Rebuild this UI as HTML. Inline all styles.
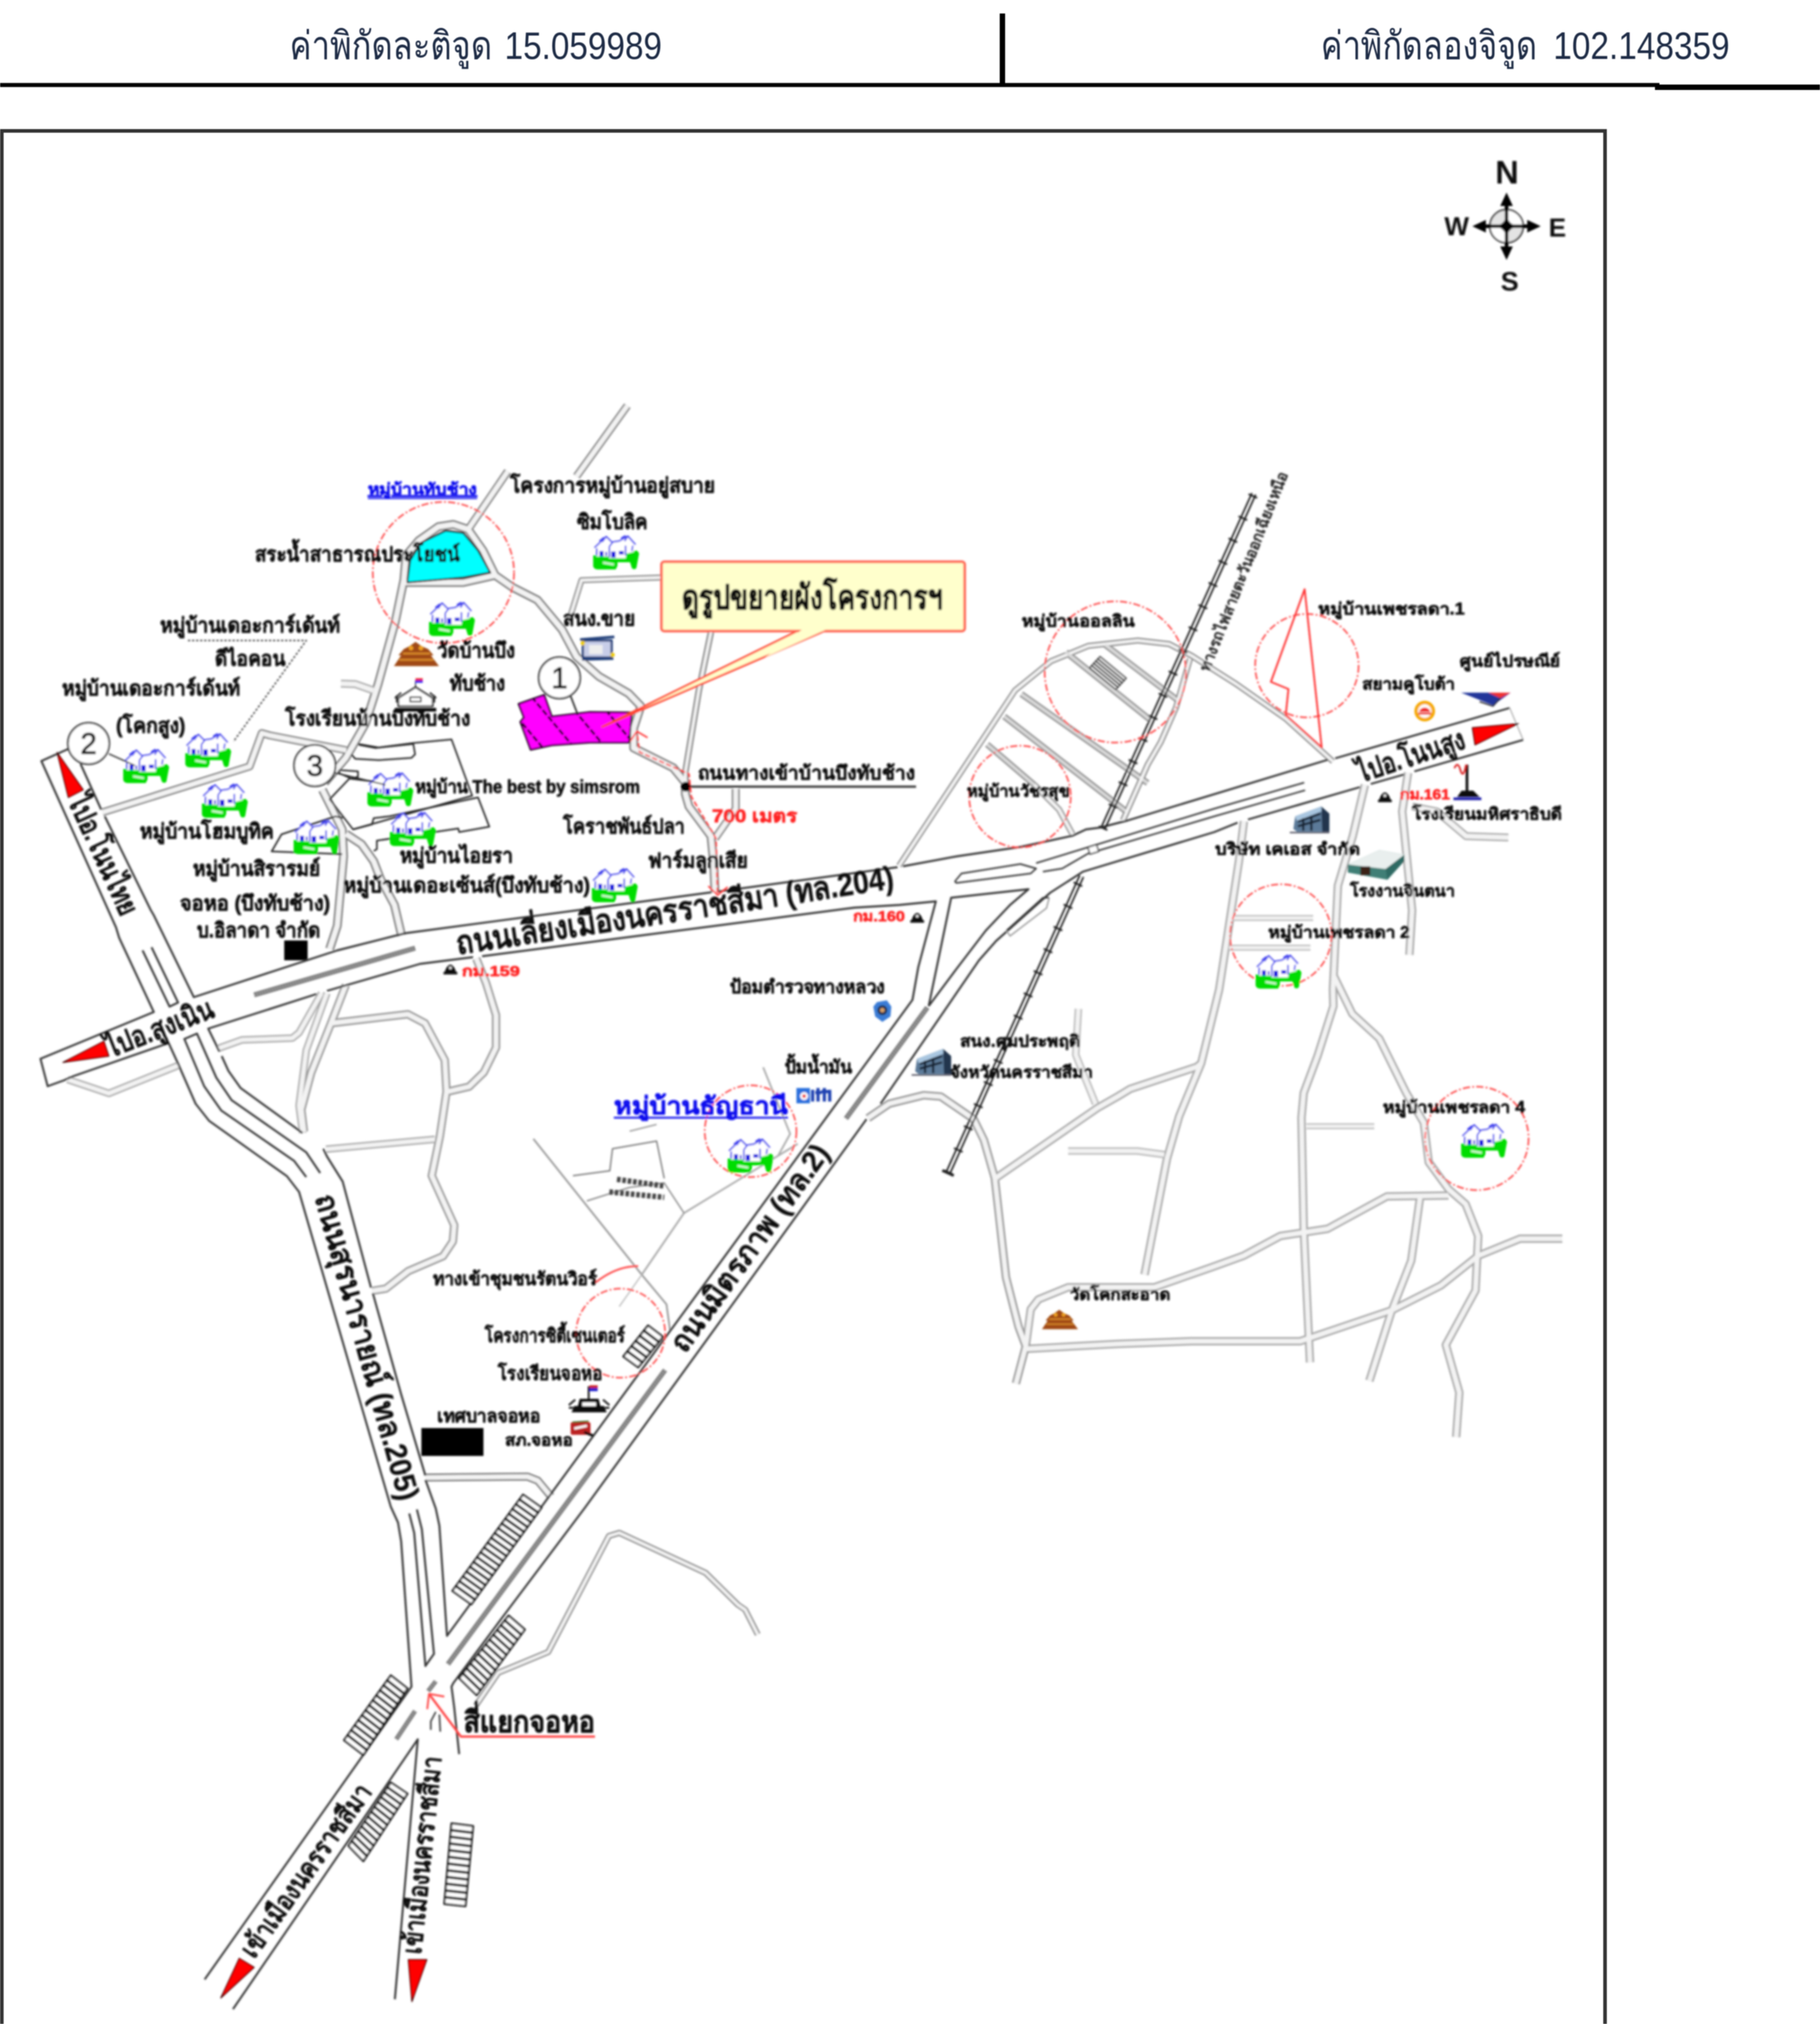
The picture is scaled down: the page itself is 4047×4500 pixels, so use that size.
<!DOCTYPE html>
<html lang="th"><head><meta charset="utf-8"><title>แผนที่</title>
<style>html,body{margin:0;padding:0;background:#fff}body{width:4047px;height:4500px;overflow:hidden;font-family:"Liberation Sans", sans-serif}svg{display:block;position:absolute;left:0;top:0}text{font-family:"Liberation Sans", sans-serif}</style></head><body>
<svg width="4047" height="4500" viewBox="0 0 4047 4500">
<defs><filter id="bl" x="0" y="0" width="100%" height="100%" filterUnits="userSpaceOnUse"><feGaussianBlur stdDeviation="2"/></filter>
<filter id="bl2" x="0" y="0" width="100%" height="100%" filterUnits="userSpaceOnUse"><feGaussianBlur stdDeviation="0.9"/></filter>

<g id="hs">
 <path d="M0,44 L0,68 Q2,75 10,75 L50,75 L54,67 L54,59 L82,59 L86,72 Q91,77 96,72 L102,40 Q100,32 92,33 L56,38 Z" fill="#0d0"/>
 <path d="M4,26 L28,3 L44,14 L60,10 L77,2 L93,19 L90,36 L74,40 L72,50 L36,50 L34,46 L8,46 Z" fill="#fff"/>
 <path d="M3,27 L29,2 L43,16 M29,2 L20,14 M36,24 L44,14 L58,12 L77,1 L94,20 M77,1 L70,12 M88,22 L86,34 M8,28 L8,44 M36,24 L36,48 M72,22 L72,44 M14,12 L24,4 M62,6 L72,0" fill="none" stroke="#44e" stroke-width="3.5"/>
 <rect x="14" y="34" width="9" height="12" fill="#11d"/><rect x="40" y="35" width="10" height="14" fill="#11d"/><rect x="57" y="34" width="11" height="8" fill="#11d"/><rect x="27" y="36" width="4" height="9" fill="#22d"/>
 <path d="M22,60 L46,64" stroke="#dfd" stroke-width="4"/>
</g>
<g id="temple">
 <path d="M0,54 L16,30 L10,30 L22,16 L34,10 L48,0 L62,10 L76,16 L88,30 L82,30 L100,54 Z" fill="#a04a12"/>
 <path d="M20,26 L80,26 M12,40 L88,40" stroke="#d98a2a" stroke-width="4"/>
 <circle cx="38" cy="14" r="5" fill="#f0a020"/><circle cx="60" cy="14" r="5" fill="#f0a020"/>
</g>
<g id="school">
 <path d="M8,48 L8,30 L46,6 L84,30 L84,48 Z" fill="#fff" stroke="#111" stroke-width="4"/>
 <path d="M0,56 L92,56" stroke="#111" stroke-width="8"/>
 <path d="M0,30 L14,18 M92,30 L78,18 M4,40 L4,24 M88,40 L88,24" stroke="#111" stroke-width="3"/>
 <rect x="34" y="28" width="24" height="10" fill="#fff" stroke="#111" stroke-width="3"/>
 <path d="M46,6 L46,-10" stroke="#111" stroke-width="2"/><rect x="46" y="-14" width="16" height="5" fill="#e22"/><rect x="46" y="-9" width="16" height="5" fill="#22e"/>
</g>
<g id="school2">
 <path d="M6,60 L84,60 L78,46 L70,46 L66,30 L24,30 L20,46 L12,46 Z" fill="#111"/>
 <path d="M0,44 L14,32 M90,44 L76,32 M0,50 L10,50 M80,50 L90,50" stroke="#111" stroke-width="4"/>
 <rect x="30" y="38" width="30" height="8" fill="#fff"/>
 <path d="M44,30 L44,2" stroke="#111" stroke-width="4"/><rect x="46" y="0" width="18" height="6" fill="#c22"/><rect x="46" y="6" width="18" height="7" fill="#22c"/>
</g>
<g id="bld">
 <path d="M0,50 L4,22 L62,0 L80,16 L80,56 L8,56 Z" fill="#5c7a99"/>
 <path d="M4,22 L62,0 L64,10 L8,32 Z" fill="#a9c6e0"/>
 <path d="M10,34 L60,16 M10,44 L60,30 M22,26 L22,54 M40,20 L40,54" stroke="#152033" stroke-width="5"/>
 <path d="M62,0 L80,16 L80,56 L64,56 Z" fill="#22344d"/>
 <path d="M-8,58 L80,58" stroke="#445" stroke-width="3"/>
</g>
<g id="wh">
 <path d="M0,32 L70,0 L126,10 L126,24 L88,66 L0,50 Z" fill="#3f7f76"/>
 <path d="M0,32 L70,0 L126,10 L84,42 Z" fill="#e9efee"/>
 <path d="M84,42 L126,10 L126,24 L88,66 Z" fill="#2f6a63"/>
 <rect x="28" y="36" width="22" height="20" fill="#3a2418"/>
</g>
<g id="km"><path d="M0,22 L4,12 Q15,-8 26,12 L30,22 Z" fill="#111"/><rect x="-2" y="20" width="34" height="6" fill="#111"/><circle cx="15" cy="10" r="3" fill="#fff"/></g>

</defs>
<rect width="4047" height="4500" fill="#fff"/>
<g filter="url(#bl2)">
<line x1="0" y1="189" x2="3690" y2="189" stroke="#000" stroke-width="9" />
<line x1="3680" y1="194" x2="4047" y2="194" stroke="#000" stroke-width="12" />
<line x1="2229" y1="30" x2="2229" y2="190" stroke="#000" stroke-width="12" />
<text x="644" y="131" font-size="86" font-weight="normal" fill="#1f2a44" text-anchor="start" textLength="450" lengthAdjust="spacingAndGlyphs" >ค่าพิกัดละติจูด</text>
<text x="1122" y="131" font-size="86" font-weight="normal" fill="#1f2a44" text-anchor="start" textLength="350" lengthAdjust="spacingAndGlyphs" >15.059989</text>
<text x="2937" y="131" font-size="86" font-weight="normal" fill="#1f2a44" text-anchor="start" textLength="481" lengthAdjust="spacingAndGlyphs" >ค่าพิกัดลองจิจูด</text>
<text x="3454" y="131" font-size="86" font-weight="normal" fill="#1f2a44" text-anchor="start" textLength="392" lengthAdjust="spacingAndGlyphs" >102.148359</text>
<polyline points="4,4500 4,291 3569,291 3569,4500" fill="none" stroke="#333" stroke-width="8" />
</g>
<g filter="url(#bl)" stroke-linecap="butt" stroke-linejoin="round">
<polyline points="733,2110 750,2058 764,1904 761,1844 731,1784 717,1756" fill="none" stroke="#7c7c7c" stroke-width="19.5" />
<polyline points="722,1740 769,1685 813,1608 841,1520 879,1382 898,1290 903,1235 931,1202 975,1171 1008,1166 1041,1177 1074,1224 1101,1279 1140,1306 1195,1334 1250,1400 1282,1460 1332,1504 1398,1542 1425,1570 1409,1619 1409,1663 1497,1707 1524,1740 1524,1765 1532,1793 1581,1859 1587,1919 1590,1985" fill="none" stroke="#7c7c7c" stroke-width="19.5" />
<polyline points="898,1295 1030,1295 1101,1279" fill="none" stroke="#7c7c7c" stroke-width="19.5" />
<polyline points="1041,1177 1129,1048" fill="none" stroke="#7c7c7c" stroke-width="17.5" />
<polyline points="1282,1059 1395,902" fill="none" stroke="#7c7c7c" stroke-width="17.5" />
<polyline points="1266,1377 1293,1290 1469,1284" fill="none" stroke="#7c7c7c" stroke-width="13" />
<polyline points="1581,1405 1554,1535 1524,1716 1524,1745" fill="none" stroke="#7c7c7c" stroke-width="14" />
<polyline points="1636,1754 1636,1798 1590,1864" fill="none" stroke="#7c7c7c" stroke-width="17.5" />
<polyline points="769,1854 804,1877 831,1915 846,1954 877,2012 893,2080" fill="none" stroke="#7c7c7c" stroke-width="19.5" />
<polyline points="228,1806 555,1704 582,1630 600,1635 770,1668" fill="none" stroke="#7c7c7c" stroke-width="17.5" />
<polyline points="758,1520 790,1521 830,1535" fill="none" stroke="#a8a8a8" stroke-width="17.5" />
<polyline points="1999,1925 2257,1535 2337,1470 2420,1436 2530,1424 2600,1432 2650,1458 2749,1521 2859,1598 2964,1693" fill="none" stroke="#7c7c7c" stroke-width="13" />
<polyline points="2458,1434 2623,1560" fill="none" stroke="#9a9a9a" stroke-width="14" />
<polyline points="2370,1450 2557,1600" fill="none" stroke="#9a9a9a" stroke-width="14" />
<polyline points="2271,1543 2552,1741" fill="none" stroke="#9a9a9a" stroke-width="14" />
<polyline points="2233,1593 2508,1807" fill="none" stroke="#9a9a9a" stroke-width="14" />
<polyline points="2195,1655 2300,1745" fill="none" stroke="#9a9a9a" stroke-width="14" />
<polyline points="2300,1745 2355,1800 2385,1855" fill="none" stroke="#989898" stroke-width="14" />
<polyline points="2646,1465 2615,1573 2581,1650 2552,1700 2497,1824" fill="none" stroke="#7c7c7c" stroke-width="13" />
<polyline points="2766,1826 2755,1914 2711,2200 2671,2364 2622,2482 2595,2576 2545,2834" fill="none" stroke="#a8a8a8" stroke-width="18.5" />
<polyline points="3035,1745 3008,1859 2975,1969 2964,2200 2965,2237 2930,2347 2899,2430 2894,2485 2899,2732 2908,2924 2913,3029" fill="none" stroke="#a8a8a8" stroke-width="18.5" />
<polyline points="3131,1718 3118,1804 3129,1914 3140,2024 3134,2123" fill="none" stroke="#a8a8a8" stroke-width="18.5" />
<polyline points="3140,1793 3195,1804 3260,1859 3354,1862" fill="none" stroke="#a8a8a8" stroke-width="17.5" />
<polyline points="2733,2041 2920,2041" fill="none" stroke="#b8b8b8" stroke-width="13" />
<polyline points="2733,2107 2914,2107" fill="none" stroke="#b8b8b8" stroke-width="13" />
<polyline points="2966,2170 3007,2254 3067,2309 3127,2430 3166,2496 3177,2584 3221,2644 3259,2677 3287,2748 3281,2869 3215,2990 3245,3096 3238,3195" fill="none" stroke="#a8a8a8" stroke-width="18.5" />
<polyline points="2281,2993 2292,2911 2309,2889 2375,2862 2567,2862 2693,2818 2765,2792 2847,2748 2952,2732 3084,2660 3221,2658" fill="none" stroke="#a8a8a8" stroke-width="18.5" />
<polyline points="2281,2999 2485,2988 2649,2982 2891,2982 3095,2913 3204,2858 3287,2792 3380,2754 3474,2754" fill="none" stroke="#a8a8a8" stroke-width="18.5" />
<polyline points="3158,2660 3138,2803 3095,2913 3045,3070" fill="none" stroke="#a8a8a8" stroke-width="18.5" />
<polyline points="2905,2504 3056,2504" fill="none" stroke="#b8b8b8" stroke-width="13" />
<polyline points="1930,2486 1977,2454 2054,2435 2092,2438 2165,2488 2188,2535 2212,2619 2237,2840 2265,2950 2281,2993 2259,3076" fill="none" stroke="#989898" stroke-width="18.5" />
<polyline points="2213,2620 2441,2463 2485,2438 2513,2421 2661,2372 2671,2364" fill="none" stroke="#a8a8a8" stroke-width="18.5" />
<polyline points="2398,2243 2392,2345 2436,2454" fill="none" stroke="#b8b8b8" stroke-width="16.5" />
<polyline points="2375,2559 2529,2559 2589,2567" fill="none" stroke="#b8b8b8" stroke-width="16.5" />
<polyline points="1059,2131 1081,2186 1103,2257 1103,2329 1076,2384 1043,2416 996,2427" fill="none" stroke="#989898" stroke-width="18.5" />
<polyline points="736,2275 907,2255 945,2275 989,2357 993,2427 978,2527 960,2614 1010,2724 1007,2760 985,2793 908,2826 858,2865 828,2870" fill="none" stroke="#989898" stroke-width="18.5" />
<polyline points="769,2190 736,2275 692,2385 670,2467 676,2516" fill="none" stroke="#989898" stroke-width="18.5" />
<polyline points="725,2555 967,2533" fill="none" stroke="#a8a8a8" stroke-width="16.5" />
<polyline points="485,2331 538,2312 650,2308 665,2296 715,2208" fill="none" stroke="#a8a8a8" stroke-width="16.5" />
<polyline points="727,2208 681,2335 665,2458 673,2519" fill="none" stroke="#a8a8a8" stroke-width="16.5" />
<polyline points="150,2400 242,2431 396,2369" fill="none" stroke="#a8a8a8" stroke-width="16.5" />
<polyline points="946,3285 1173,3283 1196,3292 1225,3327" fill="none" stroke="#6c6c6c" stroke-width="17.5" />
<polyline points="1058,3792 1108,3719 1219,3673 1354,3415 1377,3408 1569,3497 1641,3568 1657,3579 1685,3634" fill="none" stroke="#7c7c7c" stroke-width="13" />
<polyline points="733,2110 750,2058 764,1904 761,1844 731,1784 717,1756" fill="none" stroke="#f3f3f3" stroke-width="11.5" />
<polyline points="722,1740 769,1685 813,1608 841,1520 879,1382 898,1290 903,1235 931,1202 975,1171 1008,1166 1041,1177 1074,1224 1101,1279 1140,1306 1195,1334 1250,1400 1282,1460 1332,1504 1398,1542 1425,1570 1409,1619 1409,1663 1497,1707 1524,1740 1524,1765 1532,1793 1581,1859 1587,1919 1590,1985" fill="none" stroke="#f3f3f3" stroke-width="11.5" />
<polyline points="898,1295 1030,1295 1101,1279" fill="none" stroke="#f3f3f3" stroke-width="11.5" />
<polyline points="1041,1177 1129,1048" fill="none" stroke="#f3f3f3" stroke-width="10.5" />
<polyline points="1282,1059 1395,902" fill="none" stroke="#f3f3f3" stroke-width="10.5" />
<polyline points="1266,1377 1293,1290 1469,1284" fill="none" stroke="#f3f3f3" stroke-width="7" />
<polyline points="1581,1405 1554,1535 1524,1716 1524,1745" fill="none" stroke="#f3f3f3" stroke-width="7" />
<polyline points="1636,1754 1636,1798 1590,1864" fill="none" stroke="#f3f3f3" stroke-width="10.5" />
<polyline points="769,1854 804,1877 831,1915 846,1954 877,2012 893,2080" fill="none" stroke="#f3f3f3" stroke-width="11.5" />
<polyline points="228,1806 555,1704 582,1630 600,1635 770,1668" fill="none" stroke="#f3f3f3" stroke-width="10.5" />
<polyline points="758,1520 790,1521 830,1535" fill="none" stroke="#f3f3f3" stroke-width="10.5" />
<polyline points="1999,1925 2257,1535 2337,1470 2420,1436 2530,1424 2600,1432 2650,1458 2749,1521 2859,1598 2964,1693" fill="none" stroke="#f3f3f3" stroke-width="7" />
<polyline points="2458,1434 2623,1560" fill="none" stroke="#dcdcdc" stroke-width="6" />
<polyline points="2370,1450 2557,1600" fill="none" stroke="#dcdcdc" stroke-width="6" />
<polyline points="2271,1543 2552,1741" fill="none" stroke="#dcdcdc" stroke-width="6" />
<polyline points="2233,1593 2508,1807" fill="none" stroke="#dcdcdc" stroke-width="6" />
<polyline points="2195,1655 2300,1745" fill="none" stroke="#dcdcdc" stroke-width="6" />
<polyline points="2300,1745 2355,1800 2385,1855" fill="none" stroke="#f3f3f3" stroke-width="7" />
<polyline points="2646,1465 2615,1573 2581,1650 2552,1700 2497,1824" fill="none" stroke="#f3f3f3" stroke-width="7" />
<polyline points="2766,1826 2755,1914 2711,2200 2671,2364 2622,2482 2595,2576 2545,2834" fill="none" stroke="#f3f3f3" stroke-width="10.5" />
<polyline points="3035,1745 3008,1859 2975,1969 2964,2200 2965,2237 2930,2347 2899,2430 2894,2485 2899,2732 2908,2924 2913,3029" fill="none" stroke="#f3f3f3" stroke-width="10.5" />
<polyline points="3131,1718 3118,1804 3129,1914 3140,2024 3134,2123" fill="none" stroke="#f3f3f3" stroke-width="10.5" />
<polyline points="3140,1793 3195,1804 3260,1859 3354,1862" fill="none" stroke="#f3f3f3" stroke-width="10.5" />
<polyline points="2733,2041 2920,2041" fill="none" stroke="#f3f3f3" stroke-width="7" />
<polyline points="2733,2107 2914,2107" fill="none" stroke="#f3f3f3" stroke-width="7" />
<polyline points="2966,2170 3007,2254 3067,2309 3127,2430 3166,2496 3177,2584 3221,2644 3259,2677 3287,2748 3281,2869 3215,2990 3245,3096 3238,3195" fill="none" stroke="#f3f3f3" stroke-width="10.5" />
<polyline points="2281,2993 2292,2911 2309,2889 2375,2862 2567,2862 2693,2818 2765,2792 2847,2748 2952,2732 3084,2660 3221,2658" fill="none" stroke="#f3f3f3" stroke-width="10.5" />
<polyline points="2281,2999 2485,2988 2649,2982 2891,2982 3095,2913 3204,2858 3287,2792 3380,2754 3474,2754" fill="none" stroke="#f3f3f3" stroke-width="10.5" />
<polyline points="3158,2660 3138,2803 3095,2913 3045,3070" fill="none" stroke="#f3f3f3" stroke-width="10.5" />
<polyline points="2905,2504 3056,2504" fill="none" stroke="#f3f3f3" stroke-width="7" />
<polyline points="1930,2486 1977,2454 2054,2435 2092,2438 2165,2488 2188,2535 2212,2619 2237,2840 2265,2950 2281,2993 2259,3076" fill="none" stroke="#f3f3f3" stroke-width="10.5" />
<polyline points="2213,2620 2441,2463 2485,2438 2513,2421 2661,2372 2671,2364" fill="none" stroke="#f3f3f3" stroke-width="10.5" />
<polyline points="2398,2243 2392,2345 2436,2454" fill="none" stroke="#f3f3f3" stroke-width="9.5" />
<polyline points="2375,2559 2529,2559 2589,2567" fill="none" stroke="#f3f3f3" stroke-width="9.5" />
<polyline points="1059,2131 1081,2186 1103,2257 1103,2329 1076,2384 1043,2416 996,2427" fill="none" stroke="#f3f3f3" stroke-width="10.5" />
<polyline points="736,2275 907,2255 945,2275 989,2357 993,2427 978,2527 960,2614 1010,2724 1007,2760 985,2793 908,2826 858,2865 828,2870" fill="none" stroke="#f3f3f3" stroke-width="10.5" />
<polyline points="769,2190 736,2275 692,2385 670,2467 676,2516" fill="none" stroke="#f3f3f3" stroke-width="10.5" />
<polyline points="725,2555 967,2533" fill="none" stroke="#f3f3f3" stroke-width="9.5" />
<polyline points="485,2331 538,2312 650,2308 665,2296 715,2208" fill="none" stroke="#f3f3f3" stroke-width="9.5" />
<polyline points="727,2208 681,2335 665,2458 673,2519" fill="none" stroke="#f3f3f3" stroke-width="9.5" />
<polyline points="150,2400 242,2431 396,2369" fill="none" stroke="#f3f3f3" stroke-width="9.5" />
<polyline points="946,3285 1173,3283 1196,3292 1225,3327" fill="none" stroke="#f3f3f3" stroke-width="10.5" />
<polyline points="1058,3792 1108,3719 1219,3673 1354,3415 1377,3408 1569,3497 1641,3568 1657,3579 1685,3634" fill="none" stroke="#f3f3f3" stroke-width="7" />
<polyline points="1186,2532 1427,2834 1482,2900 1490,2958" fill="none" stroke="#999" stroke-width="4" />
<polyline points="1774,2543 1521,2697 1427,2834" fill="none" stroke="#aaa" stroke-width="4" />
<polyline points="1697,2373 1757,2521 1730,2570" fill="none" stroke="#aaa" stroke-width="4" />
<polyline points="1427,2834 1377,2905" fill="none" stroke="#bbb" stroke-width="3" />
<polyline points="1274,2614 1356,2603 1362,2554 1460,2537 1477,2620" fill="none" stroke="#777" stroke-width="3" />
<polyline points="1400,2515 1460,2500" fill="none" stroke="#999" stroke-width="3" />
<polyline points="1305,2670 1400,2640 1477,2630 1521,2697" fill="none" stroke="#888" stroke-width="3" />
<line x1="1524" y1="1749" x2="2037" y2="1749" stroke="#3a3a3a" stroke-width="5" />
<polyline points="798,1656 835,1663 919,1654 923,1677 915,1685 842,1690 790,1687 781,1677" fill="none" stroke="#222" stroke-width="3.5" />
<polyline points="796,1654 842,1662 919,1652 1004,1644 1050,1769 785,1844 733,1777 777,1731 835,1738" fill="none" stroke="#222" stroke-width="3.5" />
<polyline points="785,1844 827,1833 831,1819 865,1815 1063,1773 1088,1838 1021,1850 1019,1842 838,1869 838,1888 831,1892" fill="none" stroke="#222" stroke-width="3.5" />
<polyline points="754,1712 796,1715 796,1727 781,1731 754,1719 754,1712" fill="none" stroke="#222" stroke-width="3.5" />
<polyline points="762,1819 746,1815 626,1855 604,1893 761,1899" fill="none" stroke="#222" stroke-width="3.5" />
<circle cx="1525" cy="1749" r="11" fill="#000" stroke="none" stroke-width="0" />
<line x1="1372" y1="2622" x2="1477" y2="2637" stroke="#444" stroke-width="12" stroke-dasharray="8 4"/>
<line x1="1355" y1="2650" x2="1477" y2="2662" stroke="#444" stroke-width="12" stroke-dasharray="8 4"/>
<rect x="937" y="3175" width="138" height="62" fill="#000"/>
<rect x="632" y="2091" width="52" height="44" fill="#000"/>
<polyline points="172,1656 92,1692 258,2062 265,2085 342,2250 90,2354 106,2415 142,2402 165,2392 375,2319 396,2365 435,2454 465,2492 638,2615 665,2650 796,3100 869,3350 885,3385 892,3427 915,3750 455,4401" fill="none" stroke="#363636" stroke-width="4.4" />
<polyline points="179,1698 225,1800" fill="none" stroke="#363636" stroke-width="4.4" />
<polyline points="233,1815 335,2023 342,2035 431,2217 750,2113 900,2075 1581,1984" fill="none" stroke="#363636" stroke-width="4.4" />
<polyline points="1598,1982 1900,1941 1996,1928" fill="none" stroke="#363636" stroke-width="4.4" />
<polyline points="2008,1926 2127,1904 2269,1883 2385,1858 2415,1844 2446,1840 2508,1824 2953,1689" fill="none" stroke="#363636" stroke-width="4.4" />
<polyline points="2969,1686 3357,1574" fill="none" stroke="#363636" stroke-width="4.4" />
<polyline points="3357,1574 3387,1645" fill="none" stroke="#aaa" stroke-width="2.5" />
<polyline points="3387,1645 3145,1715" fill="none" stroke="#363636" stroke-width="4.4" />
<polyline points="3122,1722 3048,1743" fill="none" stroke="#363636" stroke-width="4.4" />
<polyline points="3024,1750 2775,1822" fill="none" stroke="#363636" stroke-width="4.4" />
<polyline points="2752,1829 2700,1850 2408,1938 2335,1985 2215,2092 2177,2135 1958,2454" fill="none" stroke="#363636" stroke-width="4.4" />
<polyline points="1927,2488 1665,2850 1300,3353 1123,3588 1008,3742 1004,3750 1010,3796 1021,3900" fill="none" stroke="#363636" stroke-width="4.4" />
<polyline points="317,2113 377,2238 396,2229 337,2106" fill="none" stroke="#363636" stroke-width="4.4" />
<polyline points="704,2210 463,2287 488,2338" fill="none" stroke="#363636" stroke-width="4.4" />
<polyline points="727,2203 934,2143 1052,2128" fill="none" stroke="#363636" stroke-width="4.4" />
<polyline points="1072,2126 1900,2018 2000,2012 2081,2004 2042,2150 2029,2223 994,3637 977,3392 969,3354 946,3290" fill="none" stroke="#363636" stroke-width="4.4" />
<polyline points="946,3281 892,3100 829,2875" fill="none" stroke="#363636" stroke-width="4.4" />
<polyline points="825,2863 762,2627 727,2571 719,2554" fill="none" stroke="#363636" stroke-width="4.4" />
<polyline points="673,2519 535,2419 508,2381 493,2348" fill="none" stroke="#363636" stroke-width="4.4" />
<polyline points="681,2617 654,2581 492,2469 454,2415 410,2310 438,2298 481,2396 515,2446 681,2562 712,2608" fill="none" stroke="#363636" stroke-width="4.4" />
<polyline points="910,3365 921,3408 946,3704 965,3677 938,3400 927,3356" fill="none" stroke="#363636" stroke-width="4.4" />
<polyline points="2065,2237 2115,1996 2287,1977 2246,2012 2192,2069 2127,2154 2065,2237" fill="none" stroke="#363636" stroke-width="4.4" />
<polyline points="2123,1960 2138,1942 2269,1921 2304,1931 2292,1942 2127,1963 2123,1960" fill="none" stroke="#363636" stroke-width="3.5" />
<polyline points="2238,2069 2319,1996 2333,1996" fill="none" stroke="#363636" stroke-width="3.5" />
<polyline points="2333,1996 2327,2019 2246,2081 2238,2069" fill="none" stroke="#999" stroke-width="3" />
<polyline points="2304,1919 2700,1798 2900,1740" fill="none" stroke="#363636" stroke-width="3.5" />
<polyline points="2319,1938 2362,1931 2419,1898 2700,1815 2902,1757" fill="none" stroke="#363636" stroke-width="3.5" />
<polygon points="2419,1884 2438,1878 2443,1893 2424,1899" fill="#fff" stroke="#363636" stroke-width="3" />
<polyline points="518,4467 929,3867 878,4445" fill="none" stroke="#363636" stroke-width="4.4" />
<polyline points="958,3846 958,3827 969,3806" fill="none" stroke="#363636" stroke-width="3.5" />
<polyline points="979,3850 977,3812" fill="none" stroke="#363636" stroke-width="3.5" />
<line x1="996" y1="3700" x2="1479" y2="3046" stroke="#777" stroke-width="11" />
<line x1="996" y1="3700" x2="1479" y2="3046" stroke="#a8a8a8" stroke-width="6" stroke-dasharray="2.5 3.5"/>
<line x1="1881" y1="2487" x2="2062" y2="2240" stroke="#777" stroke-width="11" />
<line x1="1881" y1="2487" x2="2062" y2="2240" stroke="#a8a8a8" stroke-width="6" stroke-dasharray="2.5 3.5"/>
<line x1="952" y1="3760" x2="969" y2="3738" stroke="#777" stroke-width="10" />
<line x1="952" y1="3760" x2="969" y2="3738" stroke="#a8a8a8" stroke-width="5" stroke-dasharray="2.5 3.5"/>
<line x1="881" y1="3867" x2="923" y2="3804" stroke="#777" stroke-width="10" />
<line x1="881" y1="3867" x2="923" y2="3804" stroke="#a8a8a8" stroke-width="5" stroke-dasharray="2.5 3.5"/>
<line x1="565" y1="2212" x2="923" y2="2108" stroke="#777" stroke-width="11" />
<line x1="565" y1="2212" x2="923" y2="2108" stroke="#a8a8a8" stroke-width="6" stroke-dasharray="2.5 3.5"/>
<polygon points="1006,3537 1163,3323 1204,3352 1048,3567" fill="#fff" stroke="#151515" stroke-width="4.5" />
<line x1="1013.85" y1="3526.3" x2="1055.8" y2="3556.25" stroke="#151515" stroke-width="6" />
<line x1="1021.7" y1="3515.6" x2="1063.6" y2="3545.5" stroke="#151515" stroke-width="6" />
<line x1="1029.55" y1="3504.9" x2="1071.4" y2="3534.75" stroke="#151515" stroke-width="6" />
<line x1="1037.4" y1="3494.2" x2="1079.2" y2="3524" stroke="#151515" stroke-width="6" />
<line x1="1045.25" y1="3483.5" x2="1087" y2="3513.25" stroke="#151515" stroke-width="6" />
<line x1="1053.1" y1="3472.8" x2="1094.8" y2="3502.5" stroke="#151515" stroke-width="6" />
<line x1="1060.95" y1="3462.1" x2="1102.6" y2="3491.75" stroke="#151515" stroke-width="6" />
<line x1="1068.8" y1="3451.4" x2="1110.4" y2="3481" stroke="#151515" stroke-width="6" />
<line x1="1076.65" y1="3440.7" x2="1118.2" y2="3470.25" stroke="#151515" stroke-width="6" />
<line x1="1084.5" y1="3430" x2="1126" y2="3459.5" stroke="#151515" stroke-width="6" />
<line x1="1092.35" y1="3419.3" x2="1133.8" y2="3448.75" stroke="#151515" stroke-width="6" />
<line x1="1100.2" y1="3408.6" x2="1141.6" y2="3438" stroke="#151515" stroke-width="6" />
<line x1="1108.05" y1="3397.9" x2="1149.4" y2="3427.25" stroke="#151515" stroke-width="6" />
<line x1="1115.9" y1="3387.2" x2="1157.2" y2="3416.5" stroke="#151515" stroke-width="6" />
<line x1="1123.75" y1="3376.5" x2="1165" y2="3405.75" stroke="#151515" stroke-width="6" />
<line x1="1131.6" y1="3365.8" x2="1172.8" y2="3395" stroke="#151515" stroke-width="6" />
<line x1="1139.45" y1="3355.1" x2="1180.6" y2="3384.25" stroke="#151515" stroke-width="6" />
<line x1="1147.3" y1="3344.4" x2="1188.4" y2="3373.5" stroke="#151515" stroke-width="6" />
<line x1="1155.15" y1="3333.7" x2="1196.2" y2="3362.75" stroke="#151515" stroke-width="6" />
<polygon points="1021,3731 1131,3592 1167,3623 1060,3769" fill="#fff" stroke="#151515" stroke-width="4.5" />
<line x1="1029.46" y1="3720.31" x2="1068.23" y2="3757.77" stroke="#151515" stroke-width="6" />
<line x1="1037.92" y1="3709.62" x2="1076.46" y2="3746.54" stroke="#151515" stroke-width="6" />
<line x1="1046.38" y1="3698.92" x2="1084.69" y2="3735.31" stroke="#151515" stroke-width="6" />
<line x1="1054.85" y1="3688.23" x2="1092.92" y2="3724.08" stroke="#151515" stroke-width="6" />
<line x1="1063.31" y1="3677.54" x2="1101.15" y2="3712.85" stroke="#151515" stroke-width="6" />
<line x1="1071.77" y1="3666.85" x2="1109.38" y2="3701.62" stroke="#151515" stroke-width="6" />
<line x1="1080.23" y1="3656.15" x2="1117.62" y2="3690.38" stroke="#151515" stroke-width="6" />
<line x1="1088.69" y1="3645.46" x2="1125.85" y2="3679.15" stroke="#151515" stroke-width="6" />
<line x1="1097.15" y1="3634.77" x2="1134.08" y2="3667.92" stroke="#151515" stroke-width="6" />
<line x1="1105.62" y1="3624.08" x2="1142.31" y2="3656.69" stroke="#151515" stroke-width="6" />
<line x1="1114.08" y1="3613.38" x2="1150.54" y2="3645.46" stroke="#151515" stroke-width="6" />
<line x1="1122.54" y1="3602.69" x2="1158.77" y2="3634.23" stroke="#151515" stroke-width="6" />
<polygon points="765,3869 869,3725 906,3754 808,3902" fill="#fff" stroke="#151515" stroke-width="4.5" />
<line x1="773" y1="3857.92" x2="815.538" y2="3890.62" stroke="#151515" stroke-width="6" />
<line x1="781" y1="3846.85" x2="823.077" y2="3879.23" stroke="#151515" stroke-width="6" />
<line x1="789" y1="3835.77" x2="830.615" y2="3867.85" stroke="#151515" stroke-width="6" />
<line x1="797" y1="3824.69" x2="838.154" y2="3856.46" stroke="#151515" stroke-width="6" />
<line x1="805" y1="3813.62" x2="845.692" y2="3845.08" stroke="#151515" stroke-width="6" />
<line x1="813" y1="3802.54" x2="853.231" y2="3833.69" stroke="#151515" stroke-width="6" />
<line x1="821" y1="3791.46" x2="860.769" y2="3822.31" stroke="#151515" stroke-width="6" />
<line x1="829" y1="3780.38" x2="868.308" y2="3810.92" stroke="#151515" stroke-width="6" />
<line x1="837" y1="3769.31" x2="875.846" y2="3799.54" stroke="#151515" stroke-width="6" />
<line x1="845" y1="3758.23" x2="883.385" y2="3788.15" stroke="#151515" stroke-width="6" />
<line x1="853" y1="3747.15" x2="890.923" y2="3776.77" stroke="#151515" stroke-width="6" />
<line x1="861" y1="3736.08" x2="898.462" y2="3765.38" stroke="#151515" stroke-width="6" />
<polygon points="775,4104 869,3963 906,3988 808,4138" fill="#fff" stroke="#151515" stroke-width="4.5" />
<line x1="782.231" y1="4093.15" x2="815.538" y2="4126.46" stroke="#151515" stroke-width="6" />
<line x1="789.462" y1="4082.31" x2="823.077" y2="4114.92" stroke="#151515" stroke-width="6" />
<line x1="796.692" y1="4071.46" x2="830.615" y2="4103.38" stroke="#151515" stroke-width="6" />
<line x1="803.923" y1="4060.62" x2="838.154" y2="4091.85" stroke="#151515" stroke-width="6" />
<line x1="811.154" y1="4049.77" x2="845.692" y2="4080.31" stroke="#151515" stroke-width="6" />
<line x1="818.385" y1="4038.92" x2="853.231" y2="4068.77" stroke="#151515" stroke-width="6" />
<line x1="825.615" y1="4028.08" x2="860.769" y2="4057.23" stroke="#151515" stroke-width="6" />
<line x1="832.846" y1="4017.23" x2="868.308" y2="4045.69" stroke="#151515" stroke-width="6" />
<line x1="840.077" y1="4006.38" x2="875.846" y2="4034.15" stroke="#151515" stroke-width="6" />
<line x1="847.308" y1="3995.54" x2="883.385" y2="4022.62" stroke="#151515" stroke-width="6" />
<line x1="854.538" y1="3984.69" x2="890.923" y2="4011.08" stroke="#151515" stroke-width="6" />
<line x1="861.769" y1="3973.85" x2="898.462" y2="3999.54" stroke="#151515" stroke-width="6" />
<polygon points="1004,4054 988,4233 1035,4238 1052,4060" fill="#fff" stroke="#151515" stroke-width="4.5" />
<line x1="1002.67" y1="4068.92" x2="1050.58" y2="4074.83" stroke="#151515" stroke-width="6" />
<line x1="1001.33" y1="4083.83" x2="1049.17" y2="4089.67" stroke="#151515" stroke-width="6" />
<line x1="1000" y1="4098.75" x2="1047.75" y2="4104.5" stroke="#151515" stroke-width="6" />
<line x1="998.667" y1="4113.67" x2="1046.33" y2="4119.33" stroke="#151515" stroke-width="6" />
<line x1="997.333" y1="4128.58" x2="1044.92" y2="4134.17" stroke="#151515" stroke-width="6" />
<line x1="996" y1="4143.5" x2="1043.5" y2="4149" stroke="#151515" stroke-width="6" />
<line x1="994.667" y1="4158.42" x2="1042.08" y2="4163.83" stroke="#151515" stroke-width="6" />
<line x1="993.333" y1="4173.33" x2="1040.67" y2="4178.67" stroke="#151515" stroke-width="6" />
<line x1="992" y1="4188.25" x2="1039.25" y2="4193.5" stroke="#151515" stroke-width="6" />
<line x1="990.667" y1="4203.17" x2="1037.83" y2="4208.33" stroke="#151515" stroke-width="6" />
<line x1="989.333" y1="4218.08" x2="1036.42" y2="4223.17" stroke="#151515" stroke-width="6" />
<polygon points="1386,3016 1441,2947 1474,2972 1419,3040" fill="#fff" stroke="#151515" stroke-width="4.5" />
<line x1="1395.17" y1="3004.5" x2="1428.17" y2="3028.67" stroke="#151515" stroke-width="6" />
<line x1="1404.33" y1="2993" x2="1437.33" y2="3017.33" stroke="#151515" stroke-width="6" />
<line x1="1413.5" y1="2981.5" x2="1446.5" y2="3006" stroke="#151515" stroke-width="6" />
<line x1="1422.67" y1="2970" x2="1455.67" y2="2994.67" stroke="#151515" stroke-width="6" />
<line x1="1431.83" y1="2958.5" x2="1464.83" y2="2983.33" stroke="#151515" stroke-width="6" />
<polygon points="2423,1485 2446,1460 2504,1508 2481,1533" fill="#fff" stroke="#222" stroke-width="3" />
<line x1="2427.6" y1="1480" x2="2485.6" y2="1528" stroke="#222" stroke-width="4" />
<line x1="2432.2" y1="1475" x2="2490.2" y2="1523" stroke="#222" stroke-width="4" />
<line x1="2436.8" y1="1470" x2="2494.8" y2="1518" stroke="#222" stroke-width="4" />
<line x1="2441.4" y1="1465" x2="2499.4" y2="1513" stroke="#222" stroke-width="4" />
<line x1="2112.1" y1="2609.85" x2="2409.1" y2="1949.85" stroke="#181818" stroke-width="3.6" />
<line x1="2103.9" y1="2606.15" x2="2400.9" y2="1946.15" stroke="#181818" stroke-width="3.6" />
<line x1="2108" y1="2608" x2="2405" y2="1948" stroke="#222" stroke-width="21" stroke-dasharray="4 50"/>
<line x1="2120.77" y1="2613.75" x2="2095.23" y2="2602.25" stroke="#222" stroke-width="6" />
<line x1="2456.1" y1="1844.85" x2="2792.1" y2="1099.85" stroke="#181818" stroke-width="3.6" />
<line x1="2447.9" y1="1841.15" x2="2783.9" y2="1096.15" stroke="#181818" stroke-width="3.6" />
<line x1="2452" y1="1843" x2="2788" y2="1098" stroke="#222" stroke-width="21" stroke-dasharray="4 50"/>
<circle cx="986" cy="1273" r="157" fill="none" stroke="#f44" stroke-width="3.5" stroke-dasharray="16 5 4 5"/>
<circle cx="2480" cy="1494" r="157" fill="none" stroke="#f44" stroke-width="3.5" stroke-dasharray="16 5 4 5"/>
<circle cx="2268" cy="1771" r="113" fill="none" stroke="#f44" stroke-width="3.5" stroke-dasharray="16 5 4 5"/>
<circle cx="2906" cy="1480" r="115" fill="none" stroke="#f44" stroke-width="3.5" stroke-dasharray="16 5 4 5"/>
<circle cx="2848" cy="2079" r="113" fill="none" stroke="#f44" stroke-width="3.5" stroke-dasharray="16 5 4 5"/>
<circle cx="3284" cy="2531" r="115" fill="none" stroke="#f44" stroke-width="3.5" stroke-dasharray="16 5 4 5"/>
<circle cx="1669" cy="2515" r="102" fill="none" stroke="#f44" stroke-width="3.5" stroke-dasharray="16 5 4 5"/>
<circle cx="1380" cy="2964" r="99" fill="none" stroke="#f44" stroke-width="3.5" stroke-dasharray="16 5 4 5"/>
<path d="M1325,2851 Q1370,2815 1419,2815" fill="none" stroke="#f44" stroke-width="4"/>
<polygon points="2901,1310 2826,1516 2865,1532 2859,1590 2939,1662" fill="none" stroke="#f33" stroke-width="4" />
<polyline points="1595,1985 1592,1864 1537,1771 1532,1721 1422,1672 1416,1628" fill="none" stroke="#f33" stroke-width="3.5" stroke-dasharray="12 5"/>
<polyline points="1400,1650 1416,1626 1440,1640" fill="none" stroke="#f33" stroke-width="3.5" />
<polyline points="1575,1970 1596,1990 1618,1972" fill="none" stroke="#f33" stroke-width="3.5" />
<polyline points="1323,3861 1025,3861 956,3769" fill="none" stroke="#f44" stroke-width="5" />
<polyline points="950,3800 954,3766 988,3772" fill="none" stroke="#f44" stroke-width="4" />
<polyline points="418,1424 681,1424 519,1649" fill="none" stroke="#333" stroke-width="3" stroke-dasharray="5 4"/>
<polygon points="906,1290 912,1246 936,1207 991,1180 1030,1185 1063,1224 1090,1273 1030,1284 906,1295" fill="#00ffff" stroke="#111" stroke-width="4" />
<use href="#hs" transform="translate(274 1666) scale(1)"/>
<use href="#hs" transform="translate(412 1631) scale(1)"/>
<use href="#hs" transform="translate(449 1743) scale(1)"/>
<use href="#hs" transform="translate(653 1824) scale(1)"/>
<use href="#hs" transform="translate(817 1718) scale(1)"/>
<use href="#hs" transform="translate(867 1806) scale(1)"/>
<use href="#hs" transform="translate(954 1339) scale(1)"/>
<use href="#hs" transform="translate(1319 1191) scale(1)"/>
<use href="#hs" transform="translate(1316 1931) scale(1)"/>
<use href="#hs" transform="translate(1618 2532) scale(1)"/>
<use href="#hs" transform="translate(2792 2123) scale(1)"/>
<use href="#hs" transform="translate(3249 2499) scale(1)"/>
<use href="#temple" transform="translate(876 1427) scale(1)"/>
<use href="#temple" transform="translate(2317 2912) scale(0.8)"/>
<use href="#school" transform="translate(878 1522) scale(1)"/>
<use href="#school2" transform="translate(1265 3080) scale(1)"/>
<use href="#bld" transform="translate(2876 1793) scale(1)"/>
<use href="#bld" transform="translate(2035 2332) scale(1)"/>
<use href="#wh" transform="translate(2997 1890) scale(1)"/>
<use href="#km" transform="translate(3066 1760) scale(0.9)"/>
<use href="#km" transform="translate(988 2143) scale(0.9)"/>
<use href="#km" transform="translate(2026 2028) scale(0.9)"/>
<g transform="translate(1290 1416)"><rect x="6" y="8" width="64" height="38" fill="#c8cde8" stroke="#24407a" stroke-width="5"/><path d="M0,6 L76,0 M4,50 L74,48" stroke="#24407a" stroke-width="6"/><rect x="20" y="18" width="30" height="20" fill="#eee"/><circle cx="72" cy="40" r="5" fill="#ec0"/><circle cx="6" cy="14" r="5" fill="#ec0"/></g>
<circle cx="3168" cy="1581" r="19" fill="#fff" stroke="#f6a800" stroke-width="8" />
<path d="M3156,1583 a12,10 0 0 1 24,0 Z" fill="#e22"/><rect x="3154" y="1584" width="28" height="5" fill="#e22"/>
<path d="M3249,1540 L3359,1540 L3320,1568 Z" fill="#23349a"/><path d="M3310,1540 L3359,1540 L3336,1552 Z" fill="#e33"/><path d="M3290,1560 L3320,1570 L3336,1552" fill="none" stroke="#333" stroke-width="3"/>
<path d="M3262,1700 L3262,1760" stroke="#111" stroke-width="6"/><path d="M3240,1772 L3250,1758 L3276,1758 L3290,1772 Z" fill="#111"/><path d="M3232,1776 L3294,1776" stroke="#22a" stroke-width="6"/><path d="M3234,1708 Q3242,1690 3248,1714 Q3254,1732 3260,1700" fill="none" stroke="#d22" stroke-width="4"/>
<g transform="translate(1942 2224)"><path d="M8,4 L30,0 L40,14 L38,36 L20,48 L4,36 L0,14 Z" fill="#3a7bd5"/><circle cx="20" cy="22" r="11" fill="#24324f"/><circle cx="20" cy="22" r="5" fill="#d9a066"/></g>
<g transform="translate(1771 2415)"><rect x="0" y="4" width="30" height="34" fill="#2a6fdd"/><circle cx="17" cy="22" r="9" fill="#fff"/><circle cx="17" cy="22" r="4" fill="#e22"/><path d="M36,8 L36,34 M48,4 L48,34 M42,14 L56,14 M62,4 L62,34 M56,12 L72,12 M74,8 L74,34" stroke="#1b3fb0" stroke-width="7"/></g>
<g transform="translate(1269 3158)"><rect x="0" y="4" width="44" height="28" rx="4" fill="#b22"/><path d="M8,18 L36,12" stroke="#fff" stroke-width="5"/><path d="M30,26 L50,34" stroke="#111" stroke-width="6"/><path d="M4,4 L40,2" stroke="#262" stroke-width="3"/></g>
<polygon points="127,1673 152,1773 185,1756" fill="#f00" stroke="#400" stroke-width="2.5" />
<polygon points="140,2362 231,2315 242,2348" fill="#f00" stroke="#400" stroke-width="2.5" />
<polygon points="3376,1609 3274,1618 3280,1656" fill="#f00" stroke="#400" stroke-width="2.5" />
<polygon points="491,4442 532,4354 565,4374" fill="#f00" stroke="#400" stroke-width="2.5" />
<polygon points="916,4450 908,4357 949,4357" fill="#f00" stroke="#400" stroke-width="2.5" />
<circle cx="1244" cy="1507" r="46" fill="#fff" stroke="#333" stroke-width="4" />
<text x="1244" y="1530" font-size="66" font-weight="normal" fill="#111" text-anchor="middle" stroke="#111" stroke-width="1.6">1</text>
<circle cx="197" cy="1653" r="46" fill="#fff" stroke="#333" stroke-width="4" />
<text x="197" y="1676" font-size="66" font-weight="normal" fill="#111" text-anchor="middle" stroke="#111" stroke-width="1.6">2</text>
<circle cx="700" cy="1702" r="46" fill="#fff" stroke="#333" stroke-width="4" />
<text x="700" y="1725" font-size="66" font-weight="normal" fill="#111" text-anchor="middle" stroke="#111" stroke-width="1.6">3</text>
<line x1="242" y1="1676" x2="300" y2="1702" stroke="#222" stroke-width="3" />
<line x1="744" y1="1718" x2="857" y2="1745" stroke="#222" stroke-width="3" />
<polygon points="1153,1565 1210,1545 1227,1593 1312,1583 1405,1584 1399,1651 1312,1651 1227,1657 1180,1667 1157,1605 1165,1595" fill="#ff00ff" stroke="#202" stroke-width="4" />
<clipPath id="pj"><polygon points="1153,1565 1210,1545 1227,1593 1312,1583 1405,1584 1399,1651 1312,1651 1227,1657 1180,1667 1157,1605 1165,1595"/></clipPath>
<g clip-path="url(#pj)" stroke="#101" stroke-width="5" stroke-dasharray="14 5"><line x1="1100" y1="1535" x2="1230" y2="1690" stroke="#101" stroke-width="5" /><line x1="1170" y1="1535" x2="1300" y2="1690" stroke="#101" stroke-width="5" /><line x1="1240" y1="1535" x2="1370" y2="1690" stroke="#101" stroke-width="5" /><line x1="1310" y1="1535" x2="1440" y2="1690" stroke="#101" stroke-width="5" /><line x1="1370" y1="1535" x2="1500" y2="1690" stroke="#101" stroke-width="5" /></g>
<line x1="1269" y1="1548" x2="1284" y2="1587" stroke="#222" stroke-width="3.5" />
<polygon points="1779,1400 1840,1400 1339,1616" fill="#ffffcc" stroke="#f43" stroke-width="4.5" />
<rect x="1471" y="1249" width="674" height="154" rx="6" fill="#ffffcc" stroke="#f65" stroke-width="6"/>
<polygon points="1783,1400 1836,1400 1700,1462" fill="#ffffcc" stroke="none" stroke-width="0" />
<text x="818" y="1099.18" font-size="34" font-weight="bold" fill="#11e" text-anchor="start" textLength="243" lengthAdjust="spacingAndGlyphs" text-decoration="underline" stroke="#11e" stroke-width="1.3">หมู่บ้านทับช้าง</text>
<line x1="818" y1="1108" x2="1061" y2="1108" stroke="#11e" stroke-width="3" />
<text x="1134" y="1095.42" font-size="46" font-weight="bold" fill="#111" text-anchor="start" textLength="456" lengthAdjust="spacingAndGlyphs"  stroke="#111" stroke-width="1.3">โครงการหมู่บ้านอยู่สบาย</text>
<text x="1283" y="1176.42" font-size="46" font-weight="bold" fill="#111" text-anchor="start" textLength="157" lengthAdjust="spacingAndGlyphs"  stroke="#111" stroke-width="1.3">ซิมโบลิค</text>
<text x="567" y="1248.42" font-size="46" font-weight="bold" fill="#111" text-anchor="start" textLength="455" lengthAdjust="spacingAndGlyphs"  stroke="#111" stroke-width="1.3">สระน้ำสาธารณประโยชน์</text>
<text x="356" y="1406.42" font-size="46" font-weight="bold" fill="#111" text-anchor="start" textLength="400" lengthAdjust="spacingAndGlyphs"  stroke="#111" stroke-width="1.3">หมู่บ้านเดอะการ์เด้นท์</text>
<text x="478" y="1480.42" font-size="46" font-weight="bold" fill="#111" text-anchor="start" textLength="156" lengthAdjust="spacingAndGlyphs"  stroke="#111" stroke-width="1.3">ดีไอคอน</text>
<text x="138" y="1546.42" font-size="46" font-weight="bold" fill="#111" text-anchor="start" textLength="396" lengthAdjust="spacingAndGlyphs"  stroke="#111" stroke-width="1.3">หมู่บ้านเดอะการ์เด้นท์</text>
<text x="258" y="1629.42" font-size="46" font-weight="bold" fill="#111" text-anchor="start" textLength="154" lengthAdjust="spacingAndGlyphs"  stroke="#111" stroke-width="1.3">(โคกสูง)</text>
<text x="972" y="1462.42" font-size="46" font-weight="bold" fill="#111" text-anchor="start" textLength="173" lengthAdjust="spacingAndGlyphs"  stroke="#111" stroke-width="1.3">วัดบ้านบึง</text>
<text x="1000" y="1535.42" font-size="46" font-weight="bold" fill="#111" text-anchor="start" textLength="123" lengthAdjust="spacingAndGlyphs"  stroke="#111" stroke-width="1.3">ทับช้าง</text>
<text x="634" y="1613.42" font-size="46" font-weight="bold" fill="#111" text-anchor="start" textLength="411" lengthAdjust="spacingAndGlyphs"  stroke="#111" stroke-width="1.3">โรงเรียนบ้านบึงทับช้าง</text>
<text x="1252" y="1391.42" font-size="46" font-weight="bold" fill="#111" text-anchor="start" textLength="160" lengthAdjust="spacingAndGlyphs"  stroke="#111" stroke-width="1.3">สนง.ขาย</text>
<text x="1516" y="1353.52" font-size="76" font-weight="bold" fill="#111" text-anchor="start" textLength="580" lengthAdjust="spacingAndGlyphs" stroke="#111" stroke-width="2.2">ดูรูปขยายผังโครงการฯ</text>
<text x="2272" y="1392.72" font-size="36" font-weight="bold" fill="#111" text-anchor="start" textLength="252" lengthAdjust="spacingAndGlyphs"  stroke="#111" stroke-width="1.3">หมู่บ้านออลลิน</text>
<text x="2931" y="1365.72" font-size="36" font-weight="bold" fill="#111" text-anchor="start" textLength="326" lengthAdjust="spacingAndGlyphs"  stroke="#111" stroke-width="1.3">หมู่บ้านเพชรลดา.1</text>
<text x="3246" y="1481.72" font-size="36" font-weight="bold" fill="#111" text-anchor="start" textLength="223" lengthAdjust="spacingAndGlyphs"  stroke="#111" stroke-width="1.3">ศูนย์ไปรษณีย์</text>
<text x="3029" y="1532.72" font-size="36" font-weight="bold" fill="#111" text-anchor="start" textLength="206" lengthAdjust="spacingAndGlyphs"  stroke="#111" stroke-width="1.3">สยามคูโบต้า</text>
<text x="3140" y="1821.72" font-size="36" font-weight="bold" fill="#111" text-anchor="start" textLength="333" lengthAdjust="spacingAndGlyphs"  stroke="#111" stroke-width="1.3">โรงเรียนมหิศราธิบดี</text>
<text x="3113" y="1776.64" font-size="32" font-weight="bold" fill="#f22" text-anchor="start" textLength="111" lengthAdjust="spacingAndGlyphs"  stroke="#f22" stroke-width="1.3">กม.161</text>
<text x="2702" y="1899.72" font-size="36" font-weight="bold" fill="#111" text-anchor="start" textLength="322" lengthAdjust="spacingAndGlyphs"  stroke="#111" stroke-width="1.3">บริษัท เคเอส จำกัด</text>
<text x="3002" y="1992.72" font-size="36" font-weight="bold" fill="#111" text-anchor="start" textLength="233" lengthAdjust="spacingAndGlyphs"  stroke="#111" stroke-width="1.3">โรงงานจินตนา</text>
<text x="2820" y="2084.72" font-size="36" font-weight="bold" fill="#111" text-anchor="start" textLength="315" lengthAdjust="spacingAndGlyphs"  stroke="#111" stroke-width="1.3">หมู่บ้านเพชรลดา 2</text>
<text x="3075" y="2473.72" font-size="36" font-weight="bold" fill="#111" text-anchor="start" textLength="316" lengthAdjust="spacingAndGlyphs"  stroke="#111" stroke-width="1.3">หมู่บ้านเพชรลดา 4</text>
<text x="2150" y="1770.72" font-size="36" font-weight="bold" fill="#111" text-anchor="start" textLength="229" lengthAdjust="spacingAndGlyphs"  stroke="#111" stroke-width="1.3">หมู่บ้านวัชรสุข</text>
<text x="1552" y="1733.34" font-size="42" font-weight="bold" fill="#111" text-anchor="start" textLength="483" lengthAdjust="spacingAndGlyphs"  stroke="#111" stroke-width="1.3">ถนนทางเข้าบ้านบึงทับช้าง</text>
<text x="1583" y="1827.8" font-size="40" font-weight="bold" fill="#f22" text-anchor="start" textLength="189" lengthAdjust="spacingAndGlyphs"  stroke="#f22" stroke-width="1.3">700 เมตร</text>
<text x="923" y="1762.8" font-size="40" font-weight="bold" fill="#111" text-anchor="start" textLength="500" lengthAdjust="spacingAndGlyphs"  stroke="#111" stroke-width="1.3">หมู่บ้าน The best by simsrom</text>
<text x="1252" y="1853.42" font-size="46" font-weight="bold" fill="#111" text-anchor="start" textLength="271" lengthAdjust="spacingAndGlyphs"  stroke="#111" stroke-width="1.3">โคราชพันธ์ปลา</text>
<text x="1441" y="1929.42" font-size="46" font-weight="bold" fill="#111" text-anchor="start" textLength="222" lengthAdjust="spacingAndGlyphs"  stroke="#111" stroke-width="1.3">ฟาร์มลูกเสีย</text>
<text x="889" y="1918.42" font-size="46" font-weight="bold" fill="#111" text-anchor="start" textLength="252" lengthAdjust="spacingAndGlyphs"  stroke="#111" stroke-width="1.3">หมู่บ้านไอยรา</text>
<text x="763" y="1984.42" font-size="46" font-weight="bold" fill="#111" text-anchor="start" textLength="549" lengthAdjust="spacingAndGlyphs"  stroke="#111" stroke-width="1.3">หมู่บ้านเดอะเซ้นส์(บึงทับช้าง)</text>
<text x="311" y="1864.42" font-size="46" font-weight="bold" fill="#111" text-anchor="start" textLength="298" lengthAdjust="spacingAndGlyphs"  stroke="#111" stroke-width="1.3">หมู่บ้านโฮมบูทิค</text>
<text x="429" y="1947.42" font-size="46" font-weight="bold" fill="#111" text-anchor="start" textLength="283" lengthAdjust="spacingAndGlyphs"  stroke="#111" stroke-width="1.3">หมู่บ้านสิรารมย์</text>
<text x="400" y="2024.42" font-size="46" font-weight="bold" fill="#111" text-anchor="start" textLength="334" lengthAdjust="spacingAndGlyphs"  stroke="#111" stroke-width="1.3">จอหอ (บึงทับช้าง)</text>
<text x="438" y="2084.42" font-size="46" font-weight="bold" fill="#111" text-anchor="start" textLength="274" lengthAdjust="spacingAndGlyphs"  stroke="#111" stroke-width="1.3">บ.อิลาดา จำกัด</text>
<text x="1027" y="2169.64" font-size="32" font-weight="bold" fill="#f22" text-anchor="start" textLength="129" lengthAdjust="spacingAndGlyphs"  stroke="#f22" stroke-width="1.3">กม.159</text>
<text x="1897" y="2047.64" font-size="32" font-weight="bold" fill="#f22" text-anchor="start" textLength="115" lengthAdjust="spacingAndGlyphs"  stroke="#f22" stroke-width="1.3">กม.160</text>
<text x="1623" y="2207.8" font-size="40" font-weight="bold" fill="#111" text-anchor="start" textLength="345" lengthAdjust="spacingAndGlyphs"  stroke="#111" stroke-width="1.3">ป้อมตำรวจทางหลวง</text>
<text x="2135" y="2326.72" font-size="36" font-weight="bold" fill="#111" text-anchor="start" textLength="266" lengthAdjust="spacingAndGlyphs"  stroke="#111" stroke-width="1.3">สนง.คุมประพฤติ</text>
<text x="2112" y="2395.72" font-size="36" font-weight="bold" fill="#111" text-anchor="start" textLength="318" lengthAdjust="spacingAndGlyphs"  stroke="#111" stroke-width="1.3">จังหวัดนครราชสีมา</text>
<text x="1745" y="2385.8" font-size="40" font-weight="bold" fill="#111" text-anchor="start" textLength="149" lengthAdjust="spacingAndGlyphs"  stroke="#111" stroke-width="1.3">ปั้มน้ำมัน</text>
<text x="1365" y="2476.58" font-size="54" font-weight="bold" fill="#11e" text-anchor="start" textLength="387" lengthAdjust="spacingAndGlyphs"  stroke="#11e" stroke-width="1.3">หมู่บ้านธัญธานี</text>
<line x1="1365" y1="2485" x2="1752" y2="2485" stroke="#11e" stroke-width="4" />
<text x="963" y="2856.8" font-size="40" font-weight="bold" fill="#111" text-anchor="start" textLength="364" lengthAdjust="spacingAndGlyphs"  stroke="#111" stroke-width="1.3">ทางเข้าชุมชนรัตนวิอร์</text>
<text x="1078" y="2984.34" font-size="42" font-weight="bold" fill="#111" text-anchor="start" textLength="312" lengthAdjust="spacingAndGlyphs"  stroke="#111" stroke-width="1.3">โครงการซิตี้เซนเตอร์</text>
<text x="1107" y="3068.34" font-size="42" font-weight="bold" fill="#111" text-anchor="start" textLength="232" lengthAdjust="spacingAndGlyphs"  stroke="#111" stroke-width="1.3">โรงเรียนจอหอ</text>
<text x="972" y="3161.8" font-size="40" font-weight="bold" fill="#111" text-anchor="start" textLength="229" lengthAdjust="spacingAndGlyphs"  stroke="#111" stroke-width="1.3">เทศบาลจอหอ</text>
<text x="1123" y="3213.72" font-size="36" font-weight="bold" fill="#111" text-anchor="start" textLength="151" lengthAdjust="spacingAndGlyphs"  stroke="#111" stroke-width="1.3">สภ.จอหอ</text>
<text x="2379" y="2889.72" font-size="36" font-weight="bold" fill="#111" text-anchor="start" textLength="223" lengthAdjust="spacingAndGlyphs"  stroke="#111" stroke-width="1.3">วัดโคกสะอาด</text>
<text x="1031" y="3850.82" font-size="66" font-weight="bold" fill="#111" text-anchor="start" textLength="292" lengthAdjust="spacingAndGlyphs"  stroke="#111" stroke-width="1.3">สี่แยกจอหอ</text>
<text x="1018" y="2122" font-size="72" font-weight="bold" fill="#111" textLength="983.053" lengthAdjust="spacingAndGlyphs" transform="rotate(-8.59993 1018 2122)" stroke="#111" stroke-width="0.6">ถนนเลี่ยงเมืองนครราชสีมา (ทล.204)</text>
<text x="1523" y="3011" font-size="66" font-weight="bold" fill="#111" textLength="552.073" lengthAdjust="spacingAndGlyphs" transform="rotate(-54.0642 1523 3011)" stroke="#111" stroke-width="0.6">ถนนมิตรภาพ (ทล.2)</text>
<text x="700" y="2662" font-size="68" font-weight="bold" fill="#111" textLength="703.582" lengthAdjust="spacingAndGlyphs" transform="rotate(74.502 700 2662)" stroke="#111" stroke-width="0.6">ถนนสุรนารายณ์ (ทล.205)</text>
<text x="150" y="1780" font-size="64" font-weight="bold" fill="#111" textLength="286.356" lengthAdjust="spacingAndGlyphs" transform="rotate(65.2249 150 1780)" stroke="#111" stroke-width="0.6">ไปอ.โนนไทย</text>
<text x="246" y="2352" font-size="64" font-weight="bold" fill="#111" textLength="251.436" lengthAdjust="spacingAndGlyphs" transform="rotate(-21.4629 246 2352)" stroke="#111" stroke-width="0.6">ไปอ.สูงเนิน</text>
<text x="3026" y="1740" font-size="64" font-weight="bold" fill="#111" textLength="248.556" lengthAdjust="spacingAndGlyphs" transform="rotate(-18.2892 3026 1740)" stroke="#111" stroke-width="0.6">ไปอ.โนนสูง</text>
<text x="565" y="4357" font-size="60" font-weight="bold" fill="#111" textLength="456.974" lengthAdjust="spacingAndGlyphs" transform="rotate(-54.7101 565 4357)" stroke="#111" stroke-width="0.6">เข้าเมืองนครราชสีมา</text>
<text x="936" y="4346" font-size="60" font-weight="bold" fill="#111" textLength="441.403" lengthAdjust="spacingAndGlyphs" transform="rotate(-84.0182 936 4346)" stroke="#111" stroke-width="0.6">เข้าเมืองนครราชสีมา</text>
<text x="2688" y="1495" font-size="34" font-weight="bold" fill="#333" textLength="473.895" lengthAdjust="spacingAndGlyphs" transform="rotate(-68.1986 2688 1495)" stroke="#333" stroke-width="0.6">ทางรถไฟสายตะวันออกเฉียงเหนือ</text>
<text x="3351" y="408" font-size="72" font-weight="bold" fill="#111" text-anchor="middle" >N</text>
<text x="3357" y="646" font-size="60" font-weight="bold" fill="#111" text-anchor="middle" >S</text>
<text x="3239" y="523" font-size="58" font-weight="bold" fill="#111" text-anchor="middle" >W</text>
<text x="3463" y="526" font-size="58" font-weight="bold" fill="#111" text-anchor="middle" >E</text>
<circle cx="3350" cy="503" r="37" fill="#e4e4e4" stroke="#333" stroke-width="4" />
<path d="M3350,503 L3350,468 A35,35 0 0 1 3385,503 Z M3350,503 L3350,538 A35,35 0 0 1 3315,503 Z" fill="#fff"/>
<path d="M3350,428 L3364,458 L3354,458 L3354,490 Q3356,499 3365,499 L3396,499 L3396,489 L3426,503 L3396,517 L3396,507 L3365,507 Q3356,507 3354,516 L3354,548 L3364,548 L3350,578 L3336,548 L3346,548 L3346,516 Q3344,507 3335,507 L3304,507 L3304,517 L3274,503 L3304,489 L3304,499 L3335,499 Q3344,499 3346,490 L3346,458 L3336,458 Z" fill="#000"/>
<path d="M3350,478 Q3354,499 3375,503 Q3354,507 3350,528 Q3346,507 3325,503 Q3346,499 3350,478 Z" fill="#000"/>
</g>
</svg></body></html>
